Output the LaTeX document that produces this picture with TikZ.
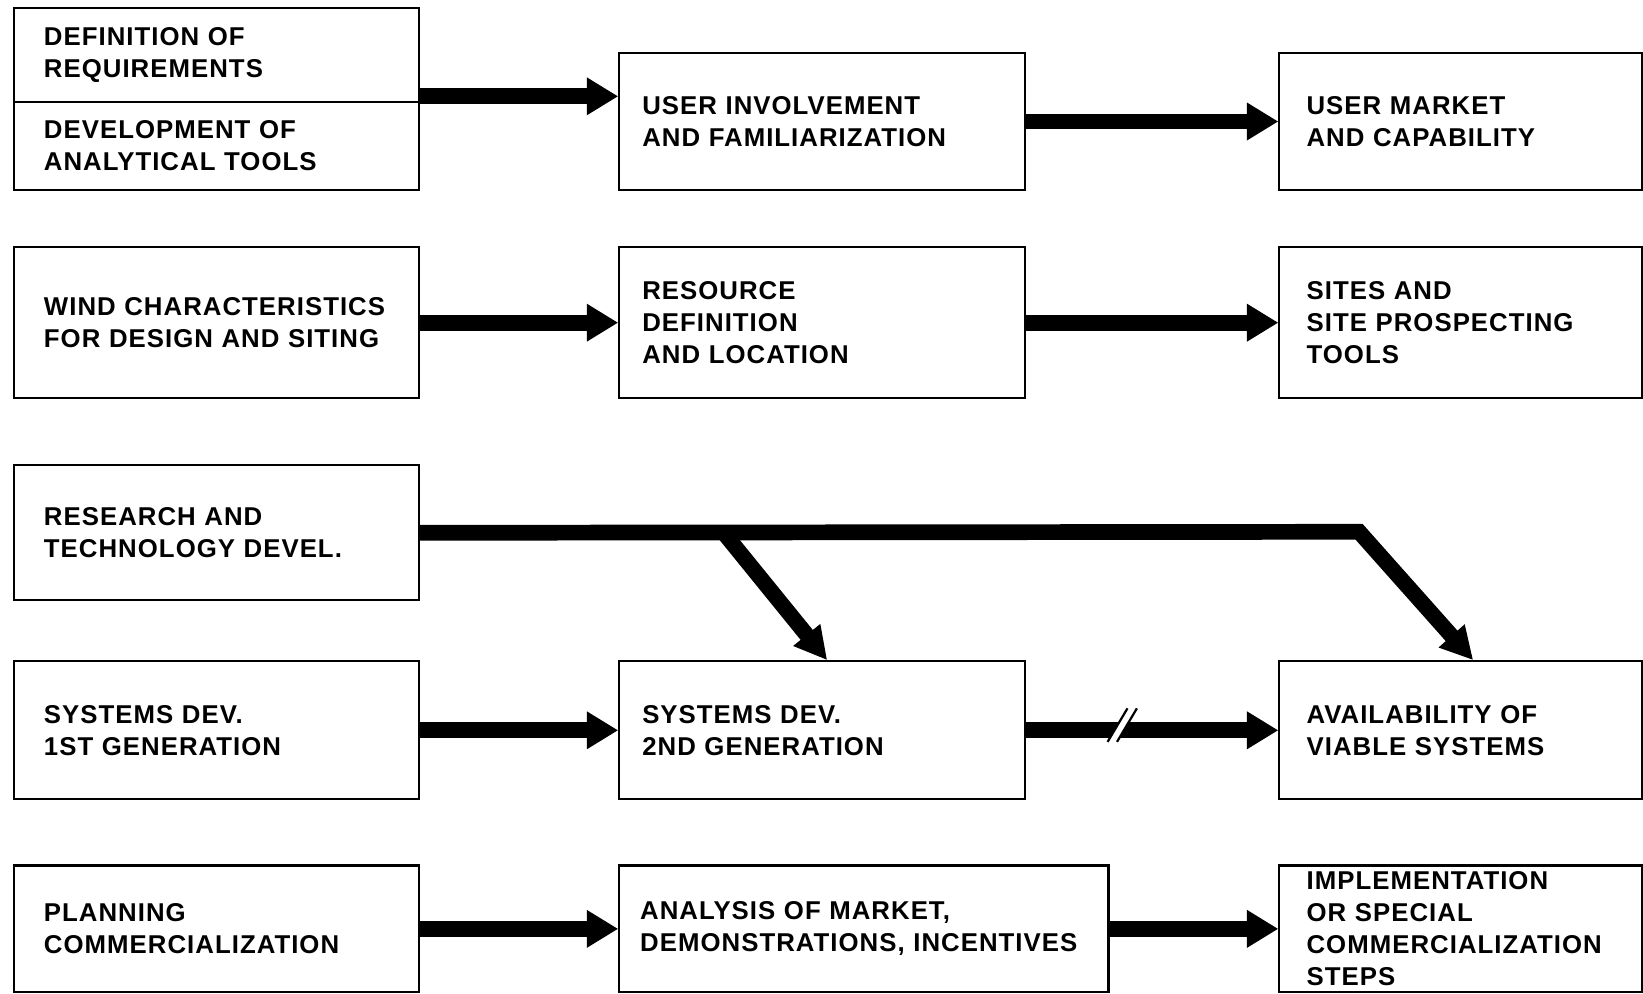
\documentclass[tikz,border=0pt]{standalone}
\usepackage{fontspec}
\setmainfont{Liberation Sans}[LetterSpace=4]
\usetikzlibrary{arrows.meta}

\begin{document}
\begin{tikzpicture}[x=0.02cm,y=-0.02cm,
		box/.style={draw,line width=1.1pt,anchor=north west,align=left,inner xsep=0.52cm,inner ysep=0pt,text width=#1,font=\fontsize{14}{17.4}\selectfont\bfseries},
		lbox/.style={box=6.58cm,inner xsep=0.58cm},
		mbox/.style={box=6.86cm,inner xsep=0.44cm},
		flow/.style={line width=0.3cm,-{Triangle[length=0.6cm,width=0.68cm]}},
		trunk/.style={line width=0.3cm,-{Triangle[length=0.62cm,width=0.62cm]}},
		brk/.style={line width=1.2pt}]
			\useasboundingbox (0,0) rectangle (1568,948);
			% Reihe 1
			\node[lbox,minimum height=1.78cm] (b11top) at (12,7) {DEFINITION OF\\REQUIREMENTS};
			\node[lbox,minimum height=1.68cm] (b11bot) at (12,96) {DEVELOPMENT OF\\ANALYTICAL TOOLS};
			\node[mbox,minimum height=2.6cm] (b12) at (590,50) {USER INVOLVEMENT\\AND FAMILIARIZATION};
			\node[box=5.88cm,minimum height=2.6cm] (b13) at (1220,50) {USER MARKET\\AND CAPABILITY};
			% Reihe 2
			\node[lbox,minimum height=2.88cm] (b21) at (12,235) {WIND CHARACTERISTICS\\FOR DESIGN AND SITING};
			\node[mbox,minimum height=2.88cm] (b22) at (590,235) {RESOURCE\\DEFINITION\\AND LOCATION};
			\node[box=5.88cm,minimum height=2.88cm] (b23) at (1220,235) {SITES AND\\SITE PROSPECTING\\TOOLS};
			% Reihe 3
			\node[lbox,minimum height=2.58cm] (b31) at (12,443) {RESEARCH AND\\TECHNOLOGY DEVEL.};
			% Reihe 4
			\node[lbox,minimum height=2.64cm] (b41) at (12,630) {SYSTEMS DEV.\\1ST GENERATION};
			\node[mbox,minimum height=2.64cm] (b42) at (590,630) {SYSTEMS DEV.\\2ND GENERATION};
			\node[box=5.88cm,minimum height=2.64cm] (b43) at (1220,630) {AVAILABILITY OF\\VIABLE SYSTEMS};
			% Reihe 5
			\node[lbox,minimum height=2.42cm] (b51) at (12,825) {PLANNING\\COMMERCIALIZATION};
			\node[box=8.54cm,inner xsep=0.40cm,minimum height=2.42cm] (b52) at (590,825) {ANALYSIS OF MARKET,\\DEMONSTRATIONS, INCENTIVES};
			\node[box=5.88cm,minimum height=2.42cm] (b53) at (1220,825) {IMPLEMENTATION\\OR SPECIAL\\COMMERCIALIZATION\\STEPS};
			
			% Pfeile
			\coordinate (a1) at ([yshift=0.12cm]b11top.south east);
			\draw[flow] (a1) -- (a1 -| b12.west);
			\draw[flow] (b12.east) -- (b12.east -| b13.west);
			\draw[flow] (b21.east) -- (b21.east -| b22.west);
			\draw[flow] (b22.east) -- (b22.east -| b23.west);
			\draw[flow] (b41.east) -- (b41.east -| b42.west);
			\draw[flow] (b42.east) -- (b42.east -| b43.west);
			\draw[flow] (b51.east) -- (b51.east -| b52.west);
			\draw[flow] (b52.east) -- (b52.east -| b53.west);
			% Forschung
			\coordinate (split) at (690,507.5);
			\coordinate (bend) at (1297,507.5);
			\draw[trunk] (b31.east) -- (bend) -- ([xshift=0.24cm]b43.north);
			\draw[trunk] (split) -- ([xshift=0.1cm]b42.north);
			% Unterbrechung
			\fill[white] (1057,708) -- (1076,676) -- (1085,676) -- (1066,708) -- cycle;
			\draw[brk] (1057,708) -- (1076,676) (1066,708) -- (1085,676);
			
\end{tikzpicture}
\end{document}
